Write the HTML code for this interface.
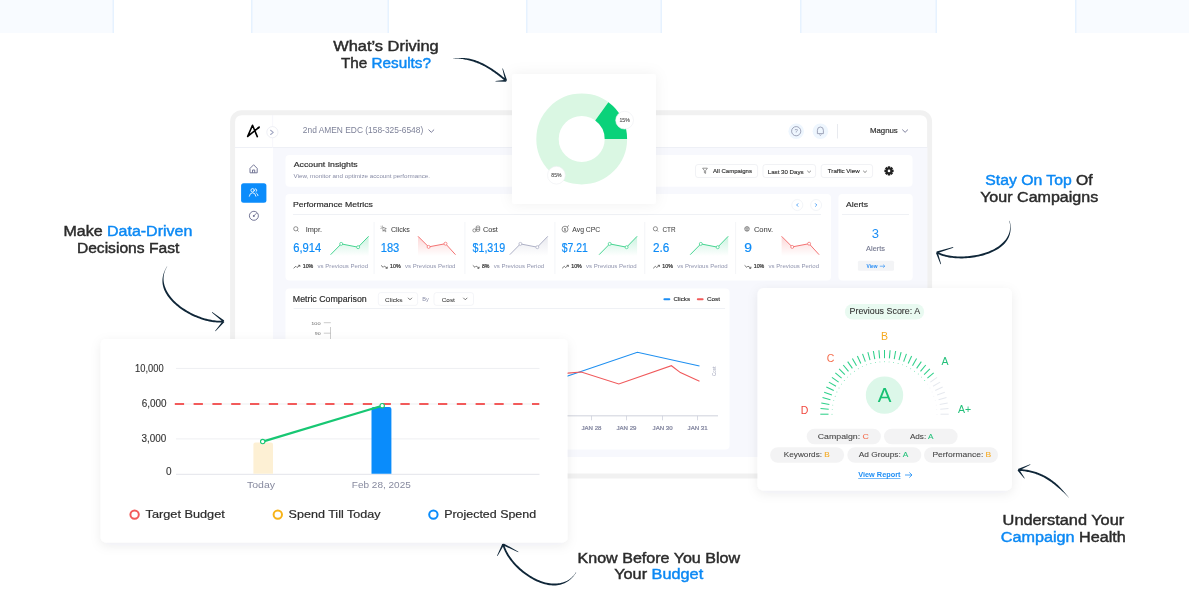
<!DOCTYPE html>
<html><head><meta charset="utf-8"><title>Dashboard</title>
<style>
html,body{margin:0;padding:0;background:#fff;}
body{width:1189px;height:603px;overflow:hidden;}
svg{display:block;font-family:"Liberation Sans",Arial,sans-serif;}
</style></head><body>
<svg width="1189" height="603" viewBox="0 0 1189 603">
<defs>
<filter id="shCard" x="-20%" y="-20%" width="140%" height="140%"><feDropShadow dx="0" dy="3" stdDeviation="5.5" flood-color="#1b2440" flood-opacity="0.075"/></filter>
<filter id="shSoft" x="-20%" y="-20%" width="140%" height="140%"><feDropShadow dx="0" dy="0" stdDeviation="7" flood-color="#1b2440" flood-opacity="0.06"/></filter>
</defs>
<rect width="1189" height="603" fill="#fff"/>
<g id="band">
<rect x="-24" y="0" width="138" height="33" fill="#f8fbff"/>
<rect x="-24" y="0" width="1.5" height="33" fill="#e6f2ff"/>
<rect x="112.5" y="0" width="1.5" height="33" fill="#e6f2ff"/>
<rect x="251" y="0" width="138" height="33" fill="#f8fbff"/>
<rect x="251" y="0" width="1.5" height="33" fill="#e6f2ff"/>
<rect x="387.5" y="0" width="1.5" height="33" fill="#e6f2ff"/>
<rect x="526" y="0" width="136" height="33" fill="#f8fbff"/>
<rect x="526" y="0" width="1.5" height="33" fill="#e6f2ff"/>
<rect x="660.5" y="0" width="1.5" height="33" fill="#e6f2ff"/>
<rect x="800" y="0" width="137" height="33" fill="#f8fbff"/>
<rect x="800" y="0" width="1.5" height="33" fill="#e6f2ff"/>
<rect x="935.5" y="0" width="1.5" height="33" fill="#e6f2ff"/>
<rect x="1075" y="0" width="138" height="33" fill="#f8fbff"/>
<rect x="1075" y="0" width="1.5" height="33" fill="#e6f2ff"/>
<rect x="1211.5" y="0" width="1.5" height="33" fill="#e6f2ff"/>
</g>
<g id="laptop">
<rect x="232.6" y="112.7" width="697" height="363.4" rx="9" fill="#fff" stroke="#f1f1f1" stroke-width="5"/>
<rect x="273" y="148" width="654.3" height="309" fill="#f7f8fd"/>
<rect x="235" y="147" width="692.3" height="1" fill="#eef0f6"/>
<rect x="272.3" y="115" width="0.8" height="33" fill="#f5f6fb"/>
<path d="M247.7 136.4 L252.5 125.3 L257.3 136.6 M247.7 136.4 L259 127.3" fill="none" stroke="#000" stroke-width="1.6" stroke-linecap="round" stroke-linejoin="round"/>
<path d="M257.2 127.2 L259.8 126.3 L258.9 129" fill="#000"/>
<circle cx="272.4" cy="132.2" r="5.6" fill="#fff" stroke="#e6e8f0" stroke-width="0.7"/>
<path d="M270.6 130.3 L273.3 132.4 L270.6 134.5" fill="none" stroke="#a3a8c3" stroke-width="1.1" stroke-linecap="round" stroke-linejoin="round"/>
<text x="302.8" y="133.4" font-size="9" fill="#7e8299" textLength="120.4" lengthAdjust="spacingAndGlyphs">2nd AMEN EDC (158-325-6548)</text>
<path d="M428.5 129.6 L431.3 132.3 L434.1 129.6" fill="none" stroke="#6e7191" stroke-width="0.9"/>
<circle cx="796.2" cy="131.2" r="7.8" fill="#eef6fe"/>
<circle cx="796.2" cy="131.2" r="4.6" fill="none" stroke="#8c90a8" stroke-width="0.8"/>
<text x="796.2" y="133.4" font-size="6" fill="#8c90a8" text-anchor="middle">?</text>
<circle cx="820.4" cy="131.2" r="7.8" fill="#eef6fe"/>
<path d="M817.4 133.6 L817.4 130.3 Q817.4 127 820.4 127 Q823.4 127 823.4 130.3 L823.4 133.6 Z M819.4 134.6 Q820.4 136 821.4 134.6" fill="none" stroke="#8c90a8" stroke-width="0.8" stroke-linejoin="round"/>
<rect x="837.2" y="124" width="0.8" height="14.5" fill="#e3e5ec"/>
<text x="869.9" y="133.3" font-size="8" fill="#333" textLength="27.9" lengthAdjust="spacingAndGlyphs" stroke="#333" stroke-width="0.2">Magnus</text>
<path d="M902.3 129.6 L905.1 132.3 L907.9 129.6" fill="none" stroke="#6e7191" stroke-width="0.9"/>
<path d="M250 168.4 L253.6 164.8 L257.2 168.4 L257.2 172.8 L250 172.8 Z M252.5 172.8 L252.5 170 L254.7 170 L254.7 172.8" fill="none" stroke="#6e7191" stroke-width="0.95" stroke-linejoin="round"/>
<rect x="241.1" y="183.3" width="25.3" height="19.4" rx="2.5" fill="#0b8cfb"/>
<g fill="none" stroke="#fff" stroke-width="0.85" stroke-linecap="round"><circle cx="252.6" cy="190.3" r="1.7"/><path d="M249.3 196.2 Q249.8 192.8 252.6 192.8 Q255.4 192.8 255.9 196.2"/><path d="M255.3 188.8 A1.6 1.6 0 0 1 255.9 191.8 M256.6 193.2 Q257.8 193.8 258 195.6"/></g>
<circle cx="253.9" cy="215.8" r="4.5" fill="none" stroke="#6e7191" stroke-width="0.95"/>
<path d="M253.8 215.9 L256.6 213.1" stroke="#6e7191" stroke-width="0.85"/><circle cx="253.8" cy="215.9" r="1" fill="#6e7191"/>
</g>
<g id="cards">
<rect x="285.5" y="155" width="627" height="31.7" rx="4" fill="#fff"/>
<rect x="285.5" y="194" width="545.5" height="86.4" rx="4" fill="#fff"/>
<rect x="838.4" y="194" width="74.3" height="86.4" rx="4" fill="#fff"/>
<rect x="285.5" y="288.4" width="444" height="161.1" rx="4" fill="#fff"/>
<text x="293.8" y="167.2" font-size="8" fill="#2d2d2d" textLength="63.9" lengthAdjust="spacingAndGlyphs" stroke="#2d2d2d" stroke-width="0.18">Account Insights</text>
<text x="293.6" y="177.8" font-size="5.8" fill="#878ba5" textLength="136.4" lengthAdjust="spacingAndGlyphs">View, monitor and optimize account performance.</text>
<rect x="695.5" y="164.5" width="62.10000000000002" height="13" rx="2.5" fill="#fff" stroke="#e8e9ef" stroke-width="0.6"/>
<rect x="763" y="164.5" width="52.60000000000002" height="13" rx="2.5" fill="#fff" stroke="#e8e9ef" stroke-width="0.6"/>
<rect x="821.2" y="164.5" width="51.39999999999998" height="13" rx="2.5" fill="#fff" stroke="#e8e9ef" stroke-width="0.6"/>
<text x="713.1" y="173.3" font-size="5.6" fill="#333" textLength="38.9" lengthAdjust="spacingAndGlyphs" stroke="#333" stroke-width="0.15">All Campaigns</text>
<path d="M702.6 168.2 L707.4 168.2 L705.6 170.6 L705.6 173.4 L704.4 172.8 L704.4 170.6 Z" fill="none" stroke="#555" stroke-width="0.6"/>
<text x="767.8" y="173.6" font-size="5.6" fill="#333" textLength="35.8" lengthAdjust="spacingAndGlyphs" stroke="#333" stroke-width="0.15">Last 30 Days</text>
<path d="M807.3 170.8 L809.1 172.5 L810.9 170.8" fill="none" stroke="#555" stroke-width="0.7"/>
<text x="827.8" y="173.3" font-size="5.6" fill="#333" textLength="31.8" lengthAdjust="spacingAndGlyphs" stroke="#333" stroke-width="0.15">Traffic View</text>
<path d="M863.2 170.8 L865 172.5 L866.8 170.8" fill="none" stroke="#555" stroke-width="0.7"/>
<rect x="887.8" y="166.3" width="2.4" height="2.4" transform="rotate(0 889 170.9)" fill="#222"/><rect x="887.8" y="166.3" width="2.4" height="2.4" transform="rotate(45 889 170.9)" fill="#222"/><rect x="887.8" y="166.3" width="2.4" height="2.4" transform="rotate(90 889 170.9)" fill="#222"/><rect x="887.8" y="166.3" width="2.4" height="2.4" transform="rotate(135 889 170.9)" fill="#222"/><rect x="887.8" y="166.3" width="2.4" height="2.4" transform="rotate(180 889 170.9)" fill="#222"/><rect x="887.8" y="166.3" width="2.4" height="2.4" transform="rotate(225 889 170.9)" fill="#222"/><rect x="887.8" y="166.3" width="2.4" height="2.4" transform="rotate(270 889 170.9)" fill="#222"/><rect x="887.8" y="166.3" width="2.4" height="2.4" transform="rotate(315 889 170.9)" fill="#222"/>
<circle cx="889" cy="170.9" r="3.4" fill="#222"/><circle cx="889" cy="170.9" r="1.3" fill="#fff"/>
<text x="292.9" y="207.3" font-size="8" fill="#2d2d2d" textLength="80" lengthAdjust="spacingAndGlyphs" stroke="#2d2d2d" stroke-width="0.18">Performance Metrics</text>
<rect x="293" y="214" width="528" height="0.8" fill="#eceef3"/>
<circle cx="797.3" cy="205" r="5.5" fill="#fff" stroke="#eef0f5" stroke-width="0.7"/>
<circle cx="816.1" cy="205" r="5.5" fill="#fff" stroke="#eef0f5" stroke-width="0.7"/>
<path d="M798.2 203.4 L796.6 205 L798.2 206.6" fill="none" stroke="#2a8ef5" stroke-width="0.8"/>
<path d="M815.2 203.4 L816.8 205 L815.2 206.6" fill="none" stroke="#2a8ef5" stroke-width="0.8"/>
<circle cx="295.8" cy="228.8" r="2.1" fill="none" stroke="#4a4a4a" stroke-width="0.6"/><path d="M297.3 230.3 L298.6 231.6" stroke="#4a4a4a" stroke-width="0.6"/>
<text x="305.7" y="231.5" font-size="6.4" fill="#444" textLength="16.3" lengthAdjust="spacingAndGlyphs" stroke="#444" stroke-width="0.05">Impr.</text>
<text x="293.3" y="251.5" font-size="13" fill="#0e8cf7" textLength="28" lengthAdjust="spacingAndGlyphs" stroke="#0e8cf7" stroke-width="0.2">6,914</text>
<defs><linearGradient id="sg0" x1="0" y1="0" x2="0" y2="1"><stop offset="0" stop-color="#45d491" stop-opacity="0.28"/><stop offset="1" stop-color="#45d491" stop-opacity="0"/></linearGradient></defs>
<polygon points="330.6,254.7 341.2,243.9 358.1,247.2 368.6,236.3 368.6,256 330.6,256" fill="url(#sg0)"/>
<polyline points="330.6,254.7 341.2,243.9 358.1,247.2 368.6,236.3" fill="none" stroke="#45d491" stroke-width="1"/>
<circle cx="341.2" cy="243.9" r="1.5" fill="#fff" stroke="#45d491" stroke-width="0.8"/>
<circle cx="358.1" cy="247.2" r="1.5" fill="#fff" stroke="#45d491" stroke-width="0.8"/>
<path d="M293.6 268.3 L295.8 266.3 L297.0 267.5 L299.8 265.4 M298.20000000000005 265.3 L299.90000000000003 265.3 L299.90000000000003 266.9" fill="none" stroke="#333" stroke-width="0.65"/>
<text x="302.7" y="268" font-size="5.6" fill="#333" textLength="10.6" lengthAdjust="spacingAndGlyphs" stroke="#333" stroke-width="0.22">10%</text>
<text x="317.6" y="268" font-size="5.5" fill="#9094ae" textLength="50.5" lengthAdjust="spacingAndGlyphs">vs Previous Period</text>
<path d="M382.7 227.2 L386.3 228.6 L384.7 229.4 L386.09999999999997 231.2 L385.3 231.8 L384.0 230 L383.09999999999997 231.3 Z M380.7 226.4 L381.7 227.2 M382.3 225.6 L382.5 226.6 M380.5 228.4 L381.59999999999997 228.4" fill="none" stroke="#4a4a4a" stroke-width="0.55" stroke-linejoin="round"/>
<text x="391.0" y="231.5" font-size="6.4" fill="#444" textLength="18.9" lengthAdjust="spacingAndGlyphs" stroke="#444" stroke-width="0.05">Clicks</text>
<text x="380.7" y="251.5" font-size="13" fill="#0e8cf7" textLength="18.6" lengthAdjust="spacingAndGlyphs" stroke="#0e8cf7" stroke-width="0.2">183</text>
<defs><linearGradient id="sg1" x1="0" y1="0" x2="0" y2="1"><stop offset="0" stop-color="#f47272" stop-opacity="0.28"/><stop offset="1" stop-color="#f47272" stop-opacity="0"/></linearGradient></defs>
<polygon points="418.0,236.3 428.6,246.9 445.5,243.7 455.5,254.7 455.5,256 418.0,256" fill="url(#sg1)"/>
<polyline points="418.0,236.3 428.6,246.9 445.5,243.7 455.5,254.7" fill="none" stroke="#f47272" stroke-width="1"/>
<circle cx="428.6" cy="246.9" r="1.5" fill="#fff" stroke="#f47272" stroke-width="0.8"/>
<circle cx="445.5" cy="243.7" r="1.5" fill="#fff" stroke="#f47272" stroke-width="0.8"/>
<path d="M381.0 265.4 L383.2 267.3 L384.4 266.1 L387.2 268.2 M385.6 268.3 L387.3 268.3 L387.3 266.7" fill="none" stroke="#333" stroke-width="0.65"/>
<text x="390.09999999999997" y="268" font-size="5.6" fill="#333" textLength="10.6" lengthAdjust="spacingAndGlyphs" stroke="#333" stroke-width="0.22">10%</text>
<text x="405.0" y="268" font-size="5.5" fill="#9094ae" textLength="50.5" lengthAdjust="spacingAndGlyphs">vs Previous Period</text>
<g fill="none" stroke="#4a4a4a" stroke-width="0.55"><circle cx="474.4" cy="230.4" r="1.6"/><rect x="476.1" y="226" width="3.6" height="5.4" rx="1.2"/><path d="M476.1 227.8 L479.7 227.8 M476.1 229.6 L479.7 229.6"/></g>
<text x="482.9" y="231.5" font-size="6.4" fill="#444" textLength="15.0" lengthAdjust="spacingAndGlyphs" stroke="#444" stroke-width="0.05">Cost</text>
<text x="472.5" y="251.5" font-size="13" fill="#0e8cf7" textLength="32.7" lengthAdjust="spacingAndGlyphs" stroke="#0e8cf7" stroke-width="0.2">$1,319</text>
<defs><linearGradient id="sg2" x1="0" y1="0" x2="0" y2="1"><stop offset="0" stop-color="#aeb1c6" stop-opacity="0.28"/><stop offset="1" stop-color="#aeb1c6" stop-opacity="0"/></linearGradient></defs>
<polygon points="509.8,254.7 520.4,243.9 537.3,247.2 547.8,236.3 547.8,256 509.8,256" fill="url(#sg2)"/>
<polyline points="509.8,254.7 520.4,243.9 537.3,247.2 547.8,236.3" fill="none" stroke="#aeb1c6" stroke-width="1"/>
<circle cx="520.4" cy="243.9" r="1.5" fill="#fff" stroke="#aeb1c6" stroke-width="0.8"/>
<circle cx="537.3" cy="247.2" r="1.5" fill="#fff" stroke="#aeb1c6" stroke-width="0.8"/>
<path d="M472.8 265.4 L475.0 267.3 L476.2 266.1 L479.0 268.2 M477.40000000000003 268.3 L479.1 268.3 L479.1 266.7" fill="none" stroke="#333" stroke-width="0.65"/>
<text x="481.9" y="268" font-size="5.6" fill="#333" textLength="7.5" lengthAdjust="spacingAndGlyphs" stroke="#333" stroke-width="0.22">8%</text>
<text x="493.7" y="268" font-size="5.5" fill="#9094ae" textLength="50.5" lengthAdjust="spacingAndGlyphs">vs Previous Period</text>
<circle cx="565.0" cy="229.2" r="3" fill="none" stroke="#4a4a4a" stroke-width="0.6"/><text x="565.0" y="230.9" font-size="4.4" fill="#4a4a4a" text-anchor="middle">$</text><path d="M567.1999999999999 226.9 L569.0 225.4" stroke="#4a4a4a" stroke-width="0.6"/>
<text x="572.3" y="231.5" font-size="6.4" fill="#444" textLength="28.0" lengthAdjust="spacingAndGlyphs" stroke="#444" stroke-width="0.05">Avg CPC</text>
<text x="561.8" y="251.5" font-size="13" fill="#0e8cf7" textLength="26.0" lengthAdjust="spacingAndGlyphs" stroke="#0e8cf7" stroke-width="0.2">$7.21</text>
<defs><linearGradient id="sg3" x1="0" y1="0" x2="0" y2="1"><stop offset="0" stop-color="#45d491" stop-opacity="0.28"/><stop offset="1" stop-color="#45d491" stop-opacity="0"/></linearGradient></defs>
<polygon points="599.1,254.7 609.7,243.9 626.6,247.2 637.1,236.3 637.1,256 599.1,256" fill="url(#sg3)"/>
<polyline points="599.1,254.7 609.7,243.9 626.6,247.2 637.1,236.3" fill="none" stroke="#45d491" stroke-width="1"/>
<circle cx="609.7" cy="243.9" r="1.5" fill="#fff" stroke="#45d491" stroke-width="0.8"/>
<circle cx="626.6" cy="247.2" r="1.5" fill="#fff" stroke="#45d491" stroke-width="0.8"/>
<path d="M562.0999999999999 268.3 L564.3 266.3 L565.4999999999999 267.5 L568.3 265.4 M566.6999999999999 265.3 L568.3999999999999 265.3 L568.3999999999999 266.9" fill="none" stroke="#333" stroke-width="0.65"/>
<text x="571.1999999999999" y="268" font-size="5.6" fill="#333" textLength="10.6" lengthAdjust="spacingAndGlyphs" stroke="#333" stroke-width="0.22">10%</text>
<text x="586.0999999999999" y="268" font-size="5.5" fill="#9094ae" textLength="50.5" lengthAdjust="spacingAndGlyphs">vs Previous Period</text>
<circle cx="655.4" cy="228.8" r="2.1" fill="none" stroke="#4a4a4a" stroke-width="0.6"/><path d="M656.9 230.3 L658.1999999999999 231.6" stroke="#4a4a4a" stroke-width="0.6"/>
<text x="662.5" y="231.5" font-size="6.4" fill="#444" textLength="13.1" lengthAdjust="spacingAndGlyphs" stroke="#444" stroke-width="0.05">CTR</text>
<text x="652.9" y="251.5" font-size="13" fill="#0e8cf7" textLength="16.3" lengthAdjust="spacingAndGlyphs" stroke="#0e8cf7" stroke-width="0.2">2.6</text>
<defs><linearGradient id="sg4" x1="0" y1="0" x2="0" y2="1"><stop offset="0" stop-color="#45d491" stop-opacity="0.28"/><stop offset="1" stop-color="#45d491" stop-opacity="0"/></linearGradient></defs>
<polygon points="690.2,254.7 700.8,243.9 717.7,247.2 728.2,236.3 728.2,256 690.2,256" fill="url(#sg4)"/>
<polyline points="690.2,254.7 700.8,243.9 717.7,247.2 728.2,236.3" fill="none" stroke="#45d491" stroke-width="1"/>
<circle cx="700.8" cy="243.9" r="1.5" fill="#fff" stroke="#45d491" stroke-width="0.8"/>
<circle cx="717.7" cy="247.2" r="1.5" fill="#fff" stroke="#45d491" stroke-width="0.8"/>
<path d="M653.1999999999999 268.3 L655.4 266.3 L656.5999999999999 267.5 L659.4 265.4 M657.8 265.3 L659.4999999999999 265.3 L659.4999999999999 266.9" fill="none" stroke="#333" stroke-width="0.65"/>
<text x="662.3" y="268" font-size="5.6" fill="#333" textLength="10.6" lengthAdjust="spacingAndGlyphs" stroke="#333" stroke-width="0.22">10%</text>
<text x="677.1999999999999" y="268" font-size="5.5" fill="#9094ae" textLength="50.5" lengthAdjust="spacingAndGlyphs">vs Previous Period</text>
<circle cx="747.0" cy="228.9" r="2.3" fill="none" stroke="#4a4a4a" stroke-width="0.6"/><path d="M744.9 228.2 L749.0999999999999 228.2 M745.3 230 L748.6999999999999 230 M747.0 226.6 L747.0 231.2" stroke="#4a4a4a" stroke-width="0.45"/>
<text x="753.9" y="231.5" font-size="6.4" fill="#444" textLength="19.2" lengthAdjust="spacingAndGlyphs" stroke="#444" stroke-width="0.05">Conv.</text>
<text x="744.3" y="251.5" font-size="13" fill="#0e8cf7" textLength="7.7" lengthAdjust="spacingAndGlyphs" stroke="#0e8cf7" stroke-width="0.2">9</text>
<defs><linearGradient id="sg5" x1="0" y1="0" x2="0" y2="1"><stop offset="0" stop-color="#f47272" stop-opacity="0.28"/><stop offset="1" stop-color="#f47272" stop-opacity="0"/></linearGradient></defs>
<polygon points="781.6,236.3 792.2,246.9 809.1,243.7 819.1,254.7 819.1,256 781.6,256" fill="url(#sg5)"/>
<polyline points="781.6,236.3 792.2,246.9 809.1,243.7 819.1,254.7" fill="none" stroke="#f47272" stroke-width="1"/>
<circle cx="792.2" cy="246.9" r="1.5" fill="#fff" stroke="#f47272" stroke-width="0.8"/>
<circle cx="809.1" cy="243.7" r="1.5" fill="#fff" stroke="#f47272" stroke-width="0.8"/>
<path d="M744.5999999999999 265.4 L746.8 267.3 L747.9999999999999 266.1 L750.8 268.2 M749.1999999999999 268.3 L750.8999999999999 268.3 L750.8999999999999 266.7" fill="none" stroke="#333" stroke-width="0.65"/>
<text x="753.6999999999999" y="268" font-size="5.6" fill="#333" textLength="10.6" lengthAdjust="spacingAndGlyphs" stroke="#333" stroke-width="0.22">10%</text>
<text x="768.5999999999999" y="268" font-size="5.5" fill="#9094ae" textLength="50.5" lengthAdjust="spacingAndGlyphs">vs Previous Period</text>
<rect x="373.7" y="222" width="0.7" height="52" fill="#eef0f4"/>
<rect x="464.6" y="222" width="0.7" height="52" fill="#eef0f4"/>
<rect x="554.6" y="222" width="0.7" height="52" fill="#eef0f4"/>
<rect x="644.5" y="222" width="0.7" height="52" fill="#eef0f4"/>
<rect x="735.4" y="222" width="0.7" height="52" fill="#eef0f4"/>
<text x="846.1" y="207.3" font-size="8" fill="#2d2d2d" textLength="21.9" lengthAdjust="spacingAndGlyphs" stroke="#2d2d2d" stroke-width="0.18">Alerts</text>
<rect x="842" y="214" width="67" height="0.8" fill="#eceef3"/>
<text x="875.3" y="238" font-size="13" fill="#1c8ef5" text-anchor="middle">3</text>
<text x="875.5" y="250.6" font-size="6.4" fill="#74788f" text-anchor="middle" textLength="18.8" lengthAdjust="spacingAndGlyphs" stroke="#74788f" stroke-width="0.1">Alerts</text>
<rect x="857.9" y="260.8" width="36.1" height="9.9" rx="1.5" fill="#f3f4f6"/>
<text x="866.6" y="268" font-size="5.2" fill="#2a8ef5" font-weight="bold" textLength="11" lengthAdjust="spacingAndGlyphs">View</text>
<path d="M879.8 266.2 L884.8 266.2 M883.2 264.7 L884.8 266.2 L883.2 267.7" fill="none" stroke="#2a8ef5" stroke-width="0.65"/>
<text x="292.8" y="301.9" font-size="8.3" fill="#2d2d2d" textLength="73.9" lengthAdjust="spacingAndGlyphs" stroke="#2d2d2d" stroke-width="0.18">Metric Comparison</text>
<rect x="378.3" y="292.6" width="39.30000000000001" height="12.8" rx="2.5" fill="#fff" stroke="#eceef3" stroke-width="0.6"/>
<rect x="434" y="292.6" width="39.5" height="12.8" rx="2.5" fill="#fff" stroke="#eceef3" stroke-width="0.6"/>
<text x="385.1" y="301.6" font-size="6.1" fill="#444" stroke="#444" stroke-width="0.08" textLength="17.3" lengthAdjust="spacingAndGlyphs">Clicks</text>
<text x="441.8" y="301.6" font-size="6.1" fill="#444" stroke="#444" stroke-width="0.08" textLength="13" lengthAdjust="spacingAndGlyphs">Cost</text>
<path d="M408 297.8 L410 299.8 L412 297.8 M463.3 297.8 L465.3 299.8 L467.3 297.8" fill="none" stroke="#555" stroke-width="0.8"/>
<text x="422.2" y="301.3" font-size="5.6" fill="#8a8ea8">By</text>
<rect x="293.6" y="308" width="431.5" height="0.8" fill="#eceef3"/>
<rect x="663.4" y="298.2" width="6.9" height="2" rx="1" fill="#1c8ef5"/>
<text x="673.5" y="301.4" font-size="5.6" fill="#333" textLength="16.5" lengthAdjust="spacingAndGlyphs" stroke="#333" stroke-width="0.15">Clicks</text>
<rect x="696.8" y="298.2" width="6.8" height="2" rx="1" fill="#f25a5a"/>
<text x="707" y="301.4" font-size="5.6" fill="#333" textLength="13" lengthAdjust="spacingAndGlyphs" stroke="#333" stroke-width="0.15">Cost</text>
<text x="320.6" y="324.5" font-size="4.3" fill="#666" text-anchor="end" textLength="9.4" lengthAdjust="spacingAndGlyphs">100</text>
<text x="320.6" y="335.1" font-size="4.3" fill="#666" text-anchor="end" textLength="5.8" lengthAdjust="spacingAndGlyphs">90</text>
<path d="M323.8 322.7 L330.8 322.7 M323.8 333.2 L330.5 333.2 M330.5 327 L330.5 340" stroke="#999" stroke-width="0.5" fill="none"/>
<polyline points="560,378.7 567.7,376.1 637.4,352.3 699.5,366" fill="none" stroke="#1e8ff0" stroke-width="1.1"/>
<polyline points="560,373.5 567.7,373.1 581.3,372 618.8,384 671.4,365.7 680.4,372.6 699.5,381.3" fill="none" stroke="#f0595b" stroke-width="1.1"/>
<text x="0" y="0" font-size="4.6" fill="#9a9eb5" transform="translate(716.3 376) rotate(-90)">Cost</text>
<rect x="560" y="415.4" width="158" height="0.9" fill="#c9ccd8"/>
<rect x="591.15" y="415.8" width="0.7" height="4.5" fill="#c9ccd8"/>
<text x="591.5" y="429.7" font-size="4.5" fill="#80849e" text-anchor="middle" textLength="20" lengthAdjust="spacingAndGlyphs" stroke="#80849e" stroke-width="0.18">JAN 28</text>
<rect x="626.15" y="415.8" width="0.7" height="4.5" fill="#c9ccd8"/>
<text x="626.5" y="429.7" font-size="4.5" fill="#80849e" text-anchor="middle" textLength="20" lengthAdjust="spacingAndGlyphs" stroke="#80849e" stroke-width="0.18">JAN 29</text>
<rect x="662.25" y="415.8" width="0.7" height="4.5" fill="#c9ccd8"/>
<text x="662.6" y="429.7" font-size="4.5" fill="#80849e" text-anchor="middle" textLength="20" lengthAdjust="spacingAndGlyphs" stroke="#80849e" stroke-width="0.18">JAN 30</text>
<rect x="697.25" y="415.8" width="0.7" height="4.5" fill="#c9ccd8"/>
<text x="697.6" y="429.7" font-size="4.5" fill="#80849e" text-anchor="middle" textLength="20" lengthAdjust="spacingAndGlyphs" stroke="#80849e" stroke-width="0.18">JAN 31</text>
</g>
<g id="donut">
<rect x="512" y="74" width="144" height="130" rx="3" fill="#fff" filter="url(#shSoft)"/>
<circle cx="581.7" cy="139" r="34.2" fill="none" stroke="#daf7e3" stroke-width="22.4"/>
<path d="M627.10 139.00 A45.4 45.4 0 0 0 608.39 102.27 L595.22 120.39 A23 23 0 0 1 604.70 139.00 Z" fill="#0ad27a"/>
<circle cx="624.6" cy="120.2" r="8.9" fill="#fff" stroke="#eceef1" stroke-width="0.6"/>
<text x="624.6" y="122.2" font-size="5.6" fill="#444" text-anchor="middle" textLength="10.2" lengthAdjust="spacingAndGlyphs" stroke="#444" stroke-width="0.08">15%</text>
<circle cx="556.4" cy="175.2" r="8.9" fill="#fff" stroke="#eceef1" stroke-width="0.6"/>
<text x="556.4" y="177.2" font-size="5.6" fill="#444" text-anchor="middle" textLength="10.2" lengthAdjust="spacingAndGlyphs" stroke="#444" stroke-width="0.08">85%</text>
</g>
<g id="spend">
<rect x="100.8" y="339" width="466.7" height="203.5" rx="5" fill="#fff" filter="url(#shCard)"/>
<rect x="176" y="367.9" width="363.5" height="1" fill="#eeeff2"/>
<rect x="176" y="438.4" width="363.5" height="1" fill="#eeeff2"/>
<rect x="176" y="473.8" width="363.5" height="1" fill="#e3e4ea"/>
<rect x="176" y="403.5" width="363.5" height="1" fill="#eeeff2"/>
<line x1="174.8" y1="404" x2="539.3" y2="404" stroke="#f25a5a" stroke-width="2.2" stroke-dasharray="9.3 9.5"/>
<text x="163.6" y="371.8" font-size="10" fill="#333" text-anchor="end" textLength="28.5" lengthAdjust="spacingAndGlyphs" stroke="#333" stroke-width="0.12">10,000</text>
<text x="166.6" y="406.9" font-size="10" fill="#333" text-anchor="end" textLength="24.8" lengthAdjust="spacingAndGlyphs" stroke="#333" stroke-width="0.12">6,000</text>
<text x="166.3" y="442.4" font-size="10" fill="#333" text-anchor="end" textLength="24.8" lengthAdjust="spacingAndGlyphs" stroke="#333" stroke-width="0.12">3,000</text>
<text x="171.5" y="474.9" font-size="10" fill="#333" text-anchor="end" stroke="#333" stroke-width="0.12">0</text>
<path d="M253.4 473.8 L253.4 444.4 Q253.4 442.4 255.4 442.4 L271 442.4 Q273 442.4 273 444.4 L273 473.8 Z" fill="#fdf0d4"/>
<path d="M371.5 473.8 L371.5 409 Q371.5 406.9 373.6 406.9 L389.3 406.9 Q391.4 406.9 391.4 409 L391.4 473.8 Z" fill="#0a8cfb"/>
<line x1="262.7" y1="441.6" x2="382.2" y2="405.7" stroke="#17c773" stroke-width="2.2"/>
<circle cx="262.7" cy="441.6" r="2.2" fill="#fff" stroke="#17c773" stroke-width="1.1"/>
<circle cx="382.2" cy="405.7" r="2.2" fill="#fff" stroke="#17c773" stroke-width="1.1"/>
<text x="261" y="488.4" font-size="9.4" fill="#878a9f" text-anchor="middle" textLength="28" lengthAdjust="spacingAndGlyphs">Today</text>
<text x="381.3" y="488.2" font-size="9.4" fill="#878a9f" text-anchor="middle" textLength="59" lengthAdjust="spacingAndGlyphs">Feb 28, 2025</text>
<circle cx="134.6" cy="514.6" r="4.2" fill="none" stroke="#f25a5a" stroke-width="2"/>
<circle cx="277.8" cy="514.6" r="4.2" fill="none" stroke="#f7b318" stroke-width="2"/>
<circle cx="433.4" cy="514.6" r="4.2" fill="none" stroke="#0a8cfb" stroke-width="2"/>
<text x="145.6" y="518.4" font-size="11.5" fill="#2b2b2b" textLength="79.2" lengthAdjust="spacingAndGlyphs" stroke="#2b2b2b" stroke-width="0.2">Target Budget</text>
<text x="288.6" y="518.4" font-size="11.5" fill="#2b2b2b" textLength="91.9" lengthAdjust="spacingAndGlyphs" stroke="#2b2b2b" stroke-width="0.2">Spend Till Today</text>
<text x="444.2" y="518.4" font-size="11.5" fill="#2b2b2b" textLength="91.9" lengthAdjust="spacingAndGlyphs" stroke="#2b2b2b" stroke-width="0.2">Projected Spend</text>
</g>
<g id="health">
<rect x="757.5" y="288" width="254.5" height="202.5" rx="6" fill="#fff" filter="url(#shCard)"/>
<rect x="844.9" y="303.9" width="79.2" height="15.7" rx="7.85" fill="#e9faf1"/>
<text x="849.5" y="314.1" font-size="8.2" stroke-width="0.08" textLength="70.6" lengthAdjust="spacingAndGlyphs"><tspan fill="#333" stroke="#333">Previous Score: </tspan><tspan fill="#333" stroke="#333">A</tspan></text>
<line x1="828.50" y1="414.20" x2="820.30" y2="414.20" stroke="#2ed08a" stroke-width="1.05"/><circle cx="832.00" cy="414.20" r="0.45" fill="#2ed08a"/><line x1="828.71" y1="409.32" x2="820.54" y2="408.60" stroke="#2ed08a" stroke-width="1.05"/><circle cx="832.20" cy="409.62" r="0.45" fill="#2ed08a"/><line x1="829.35" y1="404.48" x2="821.28" y2="403.05" stroke="#2ed08a" stroke-width="1.05"/><circle cx="832.80" cy="405.08" r="0.45" fill="#2ed08a"/><line x1="830.41" y1="399.71" x2="822.49" y2="397.58" stroke="#2ed08a" stroke-width="1.05"/><circle cx="833.79" cy="400.61" r="0.45" fill="#2ed08a"/><line x1="831.88" y1="395.05" x2="824.17" y2="392.24" stroke="#2ed08a" stroke-width="1.05"/><circle cx="835.17" cy="396.24" r="0.45" fill="#2ed08a"/><line x1="833.75" y1="390.53" x2="826.32" y2="387.07" stroke="#2ed08a" stroke-width="1.05"/><circle cx="836.92" cy="392.01" r="0.45" fill="#2ed08a"/><line x1="836.00" y1="386.20" x2="828.90" y2="382.10" stroke="#2ed08a" stroke-width="1.05"/><circle cx="839.03" cy="387.95" r="0.45" fill="#2ed08a"/><line x1="838.63" y1="382.08" x2="831.91" y2="377.38" stroke="#2ed08a" stroke-width="1.05"/><circle cx="841.49" cy="384.09" r="0.45" fill="#2ed08a"/><line x1="841.60" y1="378.20" x2="835.32" y2="372.93" stroke="#2ed08a" stroke-width="1.05"/><circle cx="844.28" cy="380.45" r="0.45" fill="#2ed08a"/><line x1="844.90" y1="374.60" x2="839.10" y2="368.80" stroke="#2ed08a" stroke-width="1.05"/><circle cx="847.38" cy="377.08" r="0.45" fill="#2ed08a"/><line x1="848.50" y1="371.30" x2="843.23" y2="365.02" stroke="#2ed08a" stroke-width="1.05"/><circle cx="850.75" cy="373.98" r="0.45" fill="#2ed08a"/><line x1="852.38" y1="368.33" x2="847.68" y2="361.61" stroke="#2ed08a" stroke-width="1.05"/><circle cx="854.39" cy="371.19" r="0.45" fill="#2ed08a"/><line x1="856.50" y1="365.70" x2="852.40" y2="358.60" stroke="#2ed08a" stroke-width="1.05"/><circle cx="858.25" cy="368.73" r="0.45" fill="#2ed08a"/><line x1="860.83" y1="363.45" x2="857.37" y2="356.02" stroke="#2ed08a" stroke-width="1.05"/><circle cx="862.31" cy="366.62" r="0.45" fill="#2ed08a"/><line x1="865.35" y1="361.58" x2="862.54" y2="353.87" stroke="#2ed08a" stroke-width="1.05"/><circle cx="866.54" cy="364.87" r="0.45" fill="#2ed08a"/><line x1="870.01" y1="360.11" x2="867.88" y2="352.19" stroke="#2ed08a" stroke-width="1.05"/><circle cx="870.91" cy="363.49" r="0.45" fill="#2ed08a"/><line x1="874.78" y1="359.05" x2="873.35" y2="350.98" stroke="#2ed08a" stroke-width="1.05"/><circle cx="875.38" cy="362.50" r="0.45" fill="#2ed08a"/><line x1="879.62" y1="358.41" x2="878.90" y2="350.24" stroke="#2ed08a" stroke-width="1.05"/><circle cx="879.92" cy="361.90" r="0.45" fill="#2ed08a"/><line x1="884.50" y1="358.20" x2="884.50" y2="350.00" stroke="#2ed08a" stroke-width="1.05"/><circle cx="884.50" cy="361.70" r="0.45" fill="#2ed08a"/><line x1="889.38" y1="358.41" x2="890.10" y2="350.24" stroke="#2ed08a" stroke-width="1.05"/><circle cx="889.08" cy="361.90" r="0.45" fill="#2ed08a"/><line x1="894.22" y1="359.05" x2="895.65" y2="350.98" stroke="#2ed08a" stroke-width="1.05"/><circle cx="893.62" cy="362.50" r="0.45" fill="#2ed08a"/><line x1="898.99" y1="360.11" x2="901.12" y2="352.19" stroke="#2ed08a" stroke-width="1.05"/><circle cx="898.09" cy="363.49" r="0.45" fill="#2ed08a"/><line x1="903.65" y1="361.58" x2="906.46" y2="353.87" stroke="#2ed08a" stroke-width="1.05"/><circle cx="902.46" cy="364.87" r="0.45" fill="#2ed08a"/><line x1="908.17" y1="363.45" x2="911.63" y2="356.02" stroke="#2ed08a" stroke-width="1.05"/><circle cx="906.69" cy="366.62" r="0.45" fill="#2ed08a"/><line x1="912.50" y1="365.70" x2="916.60" y2="358.60" stroke="#2ed08a" stroke-width="1.05"/><circle cx="910.75" cy="368.73" r="0.45" fill="#2ed08a"/><line x1="916.62" y1="368.33" x2="921.32" y2="361.61" stroke="#2ed08a" stroke-width="1.05"/><circle cx="914.61" cy="371.19" r="0.45" fill="#2ed08a"/><line x1="920.50" y1="371.30" x2="925.77" y2="365.02" stroke="#2ed08a" stroke-width="1.05"/><circle cx="918.25" cy="373.98" r="0.45" fill="#2ed08a"/><line x1="924.10" y1="374.60" x2="929.90" y2="368.80" stroke="#2ed08a" stroke-width="1.05"/><circle cx="921.62" cy="377.08" r="0.45" fill="#2ed08a"/><line x1="927.40" y1="378.20" x2="933.68" y2="372.93" stroke="#2ed08a" stroke-width="1.05"/><circle cx="924.72" cy="380.45" r="0.45" fill="#2ed08a"/><line x1="930.37" y1="382.08" x2="937.09" y2="377.38" stroke="#e6e9ef" stroke-width="1.05"/><circle cx="927.51" cy="384.09" r="0.45" fill="#e6e9ef"/><line x1="933.00" y1="386.20" x2="940.10" y2="382.10" stroke="#e6e9ef" stroke-width="1.05"/><circle cx="929.97" cy="387.95" r="0.45" fill="#e6e9ef"/><line x1="935.25" y1="390.53" x2="942.68" y2="387.07" stroke="#e6e9ef" stroke-width="1.05"/><circle cx="932.08" cy="392.01" r="0.45" fill="#e6e9ef"/><line x1="937.12" y1="395.05" x2="944.83" y2="392.24" stroke="#e6e9ef" stroke-width="1.05"/><circle cx="933.83" cy="396.24" r="0.45" fill="#e6e9ef"/><line x1="938.59" y1="399.71" x2="946.51" y2="397.58" stroke="#e6e9ef" stroke-width="1.05"/><circle cx="935.21" cy="400.61" r="0.45" fill="#e6e9ef"/><line x1="939.65" y1="404.48" x2="947.72" y2="403.05" stroke="#e6e9ef" stroke-width="1.05"/><circle cx="936.20" cy="405.08" r="0.45" fill="#e6e9ef"/><line x1="940.29" y1="409.32" x2="948.46" y2="408.60" stroke="#e6e9ef" stroke-width="1.05"/><circle cx="936.80" cy="409.62" r="0.45" fill="#e6e9ef"/><line x1="940.50" y1="414.20" x2="948.70" y2="414.20" stroke="#e6e9ef" stroke-width="1.05"/><circle cx="937.00" cy="414.20" r="0.45" fill="#e6e9ef"/>
<circle cx="884.5" cy="395.1" r="18.7" fill="#dcf7e9"/>
<text x="884.5" y="402.4" font-size="20.5" fill="#17c173" text-anchor="middle">A</text>
<text x="804.6" y="413.7" font-size="10.5" fill="#f0463c" text-anchor="middle">D</text>
<text x="830.5" y="362.1" font-size="10.5" fill="#f56e4e" text-anchor="middle">C</text>
<text x="884.6" y="339.7" font-size="10.5" fill="#f5a91f" text-anchor="middle">B</text>
<text x="945.1" y="364.8" font-size="10.5" fill="#23c07a" text-anchor="middle">A</text>
<text x="964.5" y="412.9" font-size="10.5" fill="#23c07a" text-anchor="middle">A+</text>
<rect x="806.7" y="428.8" width="74.2" height="15.5" rx="7.75" fill="#f3f3f4"/>
<text x="817.8" y="438.9" font-size="8.0" stroke-width="0.08" textLength="51.1" lengthAdjust="spacingAndGlyphs"><tspan fill="#444" stroke="#444">Campaign: </tspan><tspan fill="#f56e4e" stroke="#f56e4e">C</tspan></text>
<rect x="884.0" y="428.8" width="73.6" height="15.5" rx="7.75" fill="#f3f3f4"/>
<text x="909.9" y="438.9" font-size="8.0" stroke-width="0.08" textLength="23.6" lengthAdjust="spacingAndGlyphs"><tspan fill="#444" stroke="#444">Ads: </tspan><tspan fill="#23c07a" stroke="#23c07a">A</tspan></text>
<rect x="770.1" y="447.3" width="74.0" height="15.5" rx="7.75" fill="#f3f3f4"/>
<text x="783.8" y="457.4" font-size="8.0" stroke-width="0.08" textLength="46.0" lengthAdjust="spacingAndGlyphs"><tspan fill="#444" stroke="#444">Keywords: </tspan><tspan fill="#f5a91f" stroke="#f5a91f">B</tspan></text>
<rect x="847.3" y="447.3" width="74.0" height="15.5" rx="7.75" fill="#f3f3f4"/>
<text x="858.8" y="457.4" font-size="8.0" stroke-width="0.08" textLength="49.4" lengthAdjust="spacingAndGlyphs"><tspan fill="#444" stroke="#444">Ad Groups: </tspan><tspan fill="#23c07a" stroke="#23c07a">A</tspan></text>
<rect x="924.0" y="447.3" width="74.0" height="15.5" rx="7.75" fill="#f3f3f4"/>
<text x="932.4" y="457.4" font-size="8.0" stroke-width="0.08" textLength="58.9" lengthAdjust="spacingAndGlyphs"><tspan fill="#444" stroke="#444">Performance: </tspan><tspan fill="#f5a91f" stroke="#f5a91f">B</tspan></text>
<text x="858.2" y="477.2" font-size="7.2" fill="#1e8ef5" font-weight="bold" textLength="42.3" lengthAdjust="spacingAndGlyphs">View Report</text>
<rect x="858.2" y="478.4" width="42.3" height="0.6" fill="#1e8ef5"/>
<path d="M905 475 L912 475 M909.3 472.4 L912 475 L909.3 477.6" fill="none" stroke="#1e8ef5" stroke-width="0.8"/>
</g>
<g id="heads">
<text x="385.9" y="50.8" font-size="13.8" text-anchor="middle" textLength="105.5" lengthAdjust="spacingAndGlyphs" stroke-width="0.42"><tspan fill="#2b2b2b" stroke="#2b2b2b">What&#8217;s Driving</tspan></text>
<text x="386.0" y="67.6" font-size="13.8" text-anchor="middle" textLength="90.0" lengthAdjust="spacingAndGlyphs" stroke-width="0.42"><tspan fill="#2b2b2b" stroke="#2b2b2b">The </tspan><tspan fill="#0c89f4" stroke="#0c89f4">Results?</tspan></text>
<text x="127.9" y="235.9" font-size="13.8" text-anchor="middle" textLength="128.8" lengthAdjust="spacingAndGlyphs" stroke-width="0.42"><tspan fill="#2b2b2b" stroke="#2b2b2b">Make </tspan><tspan fill="#0c89f4" stroke="#0c89f4">Data-Driven</tspan></text>
<text x="128.1" y="252.8" font-size="13.8" text-anchor="middle" textLength="102.4" lengthAdjust="spacingAndGlyphs" stroke-width="0.42"><tspan fill="#2b2b2b" stroke="#2b2b2b">Decisions Fast</tspan></text>
<text x="1039.0" y="184.8" font-size="13.8" text-anchor="middle" textLength="107.4" lengthAdjust="spacingAndGlyphs" stroke-width="0.42"><tspan fill="#0c89f4" stroke="#0c89f4">Stay On Top</tspan><tspan fill="#2b2b2b" stroke="#2b2b2b"> Of</tspan></text>
<text x="1039.2" y="201.5" font-size="13.8" text-anchor="middle" textLength="118.1" lengthAdjust="spacingAndGlyphs" stroke-width="0.42"><tspan fill="#2b2b2b" stroke="#2b2b2b">Your Campaigns</tspan></text>
<text x="1063.4" y="525.0" font-size="13.8" text-anchor="middle" textLength="121.6" lengthAdjust="spacingAndGlyphs" stroke-width="0.42"><tspan fill="#2b2b2b" stroke="#2b2b2b">Understand Your</tspan></text>
<text x="1063.3" y="542.0" font-size="13.8" text-anchor="middle" textLength="125.1" lengthAdjust="spacingAndGlyphs" stroke-width="0.42"><tspan fill="#0c89f4" stroke="#0c89f4">Campaign</tspan><tspan fill="#2b2b2b" stroke="#2b2b2b"> Health</tspan></text>
<text x="658.8" y="562.8" font-size="13.8" text-anchor="middle" textLength="162.5" lengthAdjust="spacingAndGlyphs" stroke-width="0.42"><tspan fill="#2b2b2b" stroke="#2b2b2b">Know Before You Blow</tspan></text>
<text x="658.7" y="579.2" font-size="13.8" text-anchor="middle" textLength="89.0" lengthAdjust="spacingAndGlyphs" stroke-width="0.42"><tspan fill="#2b2b2b" stroke="#2b2b2b">Your </tspan><tspan fill="#0c89f4" stroke="#0c89f4">Budget</tspan></text>
</g>
<path d="M453.11 58.55 L454.21 58.49 L455.29 58.47 L456.37 58.47 L457.43 58.51 L458.48 58.58 L459.52 58.67 L460.55 58.78 L461.57 58.92 L462.57 59.08 L463.57 59.25 L464.55 59.44 L465.52 59.64 L466.48 59.86 L467.44 60.08 L468.39 60.31 L469.33 60.55 L470.26 60.79 L471.19 61.03 L472.12 61.29 L473.03 61.56 L473.94 61.85 L474.85 62.15 L475.75 62.47 L476.64 62.80 L477.53 63.14 L478.41 63.50 L479.29 63.87 L480.16 64.26 L481.02 64.65 L481.88 65.06 L482.74 65.49 L483.59 65.92 L484.44 66.37 L485.28 66.83 L486.12 67.30 L486.96 67.79 L487.79 68.28 L488.62 68.79 L489.45 69.30 L490.27 69.83 L491.09 70.36 L491.91 70.91 L492.73 71.46 L493.54 72.03 L494.35 72.60 L495.16 73.18 L495.97 73.77 L496.77 74.37 L497.58 74.98 L498.38 75.59 L499.19 76.21 L500.00 76.83 L500.81 77.46 L501.61 78.09 L502.42 78.73 L503.23 79.38 L504.04 80.03 L504.84 80.69 L505.65 81.35 L506.75 80.05 L505.95 79.37 L505.15 78.69 L504.35 78.01 L503.55 77.34 L502.75 76.68 L501.95 76.02 L501.15 75.37 L500.35 74.73 L499.54 74.09 L498.73 73.47 L497.91 72.85 L497.09 72.24 L496.28 71.65 L495.45 71.05 L494.63 70.47 L493.80 69.90 L492.97 69.33 L492.14 68.78 L491.30 68.23 L490.46 67.69 L489.62 67.17 L488.77 66.65 L487.92 66.15 L487.06 65.65 L486.20 65.17 L485.34 64.70 L484.47 64.24 L483.59 63.79 L482.71 63.36 L481.83 62.93 L480.94 62.52 L480.04 62.13 L479.14 61.74 L478.23 61.37 L477.31 61.02 L476.39 60.68 L475.46 60.35 L474.53 60.04 L473.59 59.74 L472.64 59.46 L471.68 59.20 L470.72 58.95 L469.74 58.74 L468.76 58.55 L467.76 58.39 L466.76 58.26 L465.75 58.15 L464.73 58.07 L463.71 58.00 L462.68 57.96 L461.64 57.94 L460.60 57.93 L459.55 57.94 L458.50 57.97 L457.43 58.00 L456.36 58.05 L455.28 58.11 L454.19 58.18 L453.09 58.25 Z M502.31 68.58 L505.29 80.97 L507.11 80.43 L502.89 68.42 Z M495.52 81.60 L506.25 81.65 L506.15 79.75 L495.48 81.00 Z" fill="#0f2638"/>
<path d="M166.97 266.42 L166.07 267.93 L165.26 269.44 L164.56 270.94 L163.96 272.44 L163.46 273.93 L163.06 275.43 L162.76 276.92 L162.55 278.42 L162.44 279.91 L162.43 281.41 L162.52 282.90 L162.70 284.38 L162.98 285.85 L163.35 287.32 L163.81 288.76 L164.37 290.19 L165.01 291.60 L165.74 292.98 L166.54 294.34 L167.41 295.67 L168.35 296.99 L169.34 298.28 L170.39 299.54 L171.50 300.79 L172.66 302.00 L173.88 303.19 L175.13 304.35 L176.44 305.49 L177.78 306.59 L179.16 307.67 L180.58 308.72 L182.03 309.73 L183.51 310.72 L185.02 311.67 L186.56 312.59 L188.11 313.47 L189.69 314.32 L191.28 315.13 L192.89 315.91 L194.51 316.64 L196.14 317.34 L197.77 318.00 L199.40 318.62 L201.04 319.20 L202.67 319.73 L204.30 320.22 L205.93 320.67 L207.54 321.07 L209.14 321.43 L210.72 321.74 L212.28 321.99 L213.83 322.19 L215.35 322.34 L216.84 322.44 L218.31 322.49 L219.74 322.49 L221.14 322.43 L222.50 322.31 L223.80 322.14 L223.60 320.46 L222.33 320.60 L221.04 320.68 L219.72 320.72 L218.35 320.70 L216.95 320.63 L215.52 320.52 L214.06 320.35 L212.57 320.13 L211.06 319.87 L209.52 319.57 L207.97 319.22 L206.41 318.83 L204.83 318.40 L203.24 317.92 L201.65 317.40 L200.06 316.83 L198.46 316.23 L196.87 315.59 L195.28 314.91 L193.70 314.19 L192.13 313.43 L190.57 312.64 L189.03 311.81 L187.51 310.95 L186.02 310.05 L184.55 309.12 L183.10 308.16 L181.69 307.18 L180.31 306.16 L178.97 305.11 L177.66 304.04 L176.40 302.94 L175.19 301.82 L174.02 300.67 L172.90 299.50 L171.83 298.30 L170.82 297.09 L169.87 295.86 L168.98 294.60 L168.16 293.34 L167.40 292.05 L166.70 290.75 L166.07 289.44 L165.50 288.12 L164.99 286.79 L164.55 285.45 L164.18 284.09 L163.89 282.71 L163.68 281.32 L163.56 279.91 L163.53 278.48 L163.60 277.03 L163.77 275.57 L164.05 274.09 L164.44 272.60 L164.95 271.10 L165.58 269.59 L166.34 268.09 L167.23 266.58 Z M211.82 312.44 L223.12 322.05 L224.28 320.55 L212.18 311.96 Z M215.53 331.30 L224.42 321.92 L222.98 320.68 L215.07 330.90 Z" fill="#0f2638"/>
<path d="M1009.35 220.93 L1009.73 222.64 L1009.99 224.30 L1010.11 225.91 L1010.12 227.48 L1010.02 229.00 L1009.80 230.47 L1009.49 231.89 L1009.08 233.26 L1008.58 234.58 L1007.99 235.85 L1007.33 237.08 L1006.59 238.26 L1005.78 239.40 L1004.90 240.50 L1003.96 241.56 L1002.96 242.60 L1001.90 243.60 L1000.78 244.57 L999.60 245.51 L998.37 246.41 L997.07 247.28 L995.73 248.10 L994.33 248.89 L992.89 249.64 L991.40 250.35 L989.87 251.02 L988.30 251.66 L986.69 252.25 L985.06 252.80 L983.40 253.32 L981.71 253.80 L980.00 254.24 L978.27 254.64 L976.52 255.00 L974.77 255.32 L973.00 255.60 L971.23 255.85 L969.45 256.05 L967.68 256.22 L965.91 256.34 L964.14 256.43 L962.39 256.48 L960.65 256.50 L958.93 256.47 L957.22 256.40 L955.54 256.30 L953.89 256.16 L952.26 255.98 L950.67 255.76 L949.11 255.51 L947.59 255.23 L946.12 254.91 L944.68 254.55 L943.30 254.16 L941.97 253.73 L940.69 253.27 L939.47 252.77 L938.31 252.23 L937.20 251.65 L936.40 253.15 L937.54 253.77 L938.76 254.36 L940.04 254.91 L941.37 255.42 L942.76 255.89 L944.20 256.33 L945.68 256.72 L947.21 257.07 L948.78 257.38 L950.39 257.64 L952.03 257.87 L953.70 258.05 L955.40 258.20 L957.13 258.30 L958.88 258.37 L960.64 258.40 L962.42 258.38 L964.22 258.33 L966.02 258.24 L967.84 258.11 L969.65 257.94 L971.47 257.73 L973.28 257.48 L975.09 257.19 L976.89 256.86 L978.67 256.49 L980.45 256.08 L982.20 255.63 L983.94 255.14 L985.65 254.61 L987.33 254.04 L988.98 253.43 L990.60 252.77 L992.19 252.08 L993.73 251.34 L995.23 250.56 L996.69 249.74 L998.10 248.88 L999.46 247.97 L1000.76 247.02 L1002.00 246.03 L1003.18 244.99 L1004.28 243.90 L1005.31 242.76 L1006.25 241.56 L1007.11 240.32 L1007.88 239.04 L1008.56 237.72 L1009.14 236.36 L1009.63 234.96 L1010.03 233.53 L1010.32 232.07 L1010.52 230.57 L1010.62 229.04 L1010.63 227.48 L1010.53 225.88 L1010.34 224.25 L1010.04 222.58 L1009.65 220.87 Z M953.11 247.11 L936.52 251.49 L937.08 253.31 L953.29 247.69 Z M941.08 264.10 L937.70 252.10 L935.90 252.70 L940.52 264.30 Z" fill="#0f2638"/>
<path d="M1068.61 497.20 L1067.91 496.38 L1067.21 495.55 L1066.52 494.73 L1065.84 493.92 L1065.16 493.10 L1064.48 492.30 L1063.81 491.49 L1063.14 490.70 L1062.46 489.92 L1061.78 489.14 L1061.10 488.38 L1060.41 487.63 L1059.71 486.90 L1059.00 486.18 L1058.29 485.47 L1057.56 484.79 L1056.82 484.13 L1056.06 483.49 L1055.30 482.86 L1054.53 482.25 L1053.76 481.65 L1052.98 481.06 L1052.20 480.48 L1051.41 479.92 L1050.62 479.37 L1049.81 478.83 L1049.01 478.30 L1048.19 477.79 L1047.37 477.29 L1046.54 476.80 L1045.70 476.33 L1044.86 475.87 L1044.01 475.42 L1043.15 474.99 L1042.28 474.57 L1041.40 474.16 L1040.51 473.77 L1039.62 473.40 L1038.71 473.03 L1037.80 472.69 L1036.88 472.35 L1035.94 472.03 L1035.00 471.73 L1034.04 471.44 L1033.08 471.17 L1032.10 470.91 L1031.12 470.66 L1030.12 470.43 L1029.11 470.22 L1028.09 470.02 L1027.05 469.85 L1026.01 469.69 L1024.95 469.55 L1023.88 469.43 L1022.80 469.32 L1021.70 469.23 L1020.59 469.15 L1019.47 469.09 L1018.34 469.05 L1018.26 470.75 L1019.37 470.81 L1020.47 470.89 L1021.55 470.99 L1022.61 471.10 L1023.67 471.23 L1024.70 471.37 L1025.73 471.53 L1026.74 471.70 L1027.74 471.89 L1028.73 472.08 L1029.71 472.29 L1030.68 472.51 L1031.63 472.75 L1032.58 473.00 L1033.51 473.26 L1034.43 473.54 L1035.34 473.84 L1036.25 474.15 L1037.14 474.47 L1038.02 474.80 L1038.90 475.15 L1039.76 475.52 L1040.62 475.90 L1041.47 476.29 L1042.31 476.69 L1043.14 477.11 L1043.96 477.54 L1044.78 477.99 L1045.59 478.45 L1046.39 478.92 L1047.19 479.40 L1047.98 479.90 L1048.77 480.41 L1049.54 480.94 L1050.32 481.47 L1051.08 482.02 L1051.85 482.58 L1052.60 483.16 L1053.35 483.74 L1054.10 484.34 L1054.85 484.95 L1055.59 485.57 L1056.34 486.19 L1057.09 486.82 L1057.84 487.45 L1058.61 488.08 L1059.37 488.72 L1060.13 489.37 L1060.90 490.03 L1061.67 490.71 L1062.43 491.39 L1063.20 492.08 L1063.96 492.79 L1064.71 493.52 L1065.46 494.26 L1066.21 495.02 L1066.94 495.79 L1067.67 496.59 L1068.39 497.40 Z M1030.18 464.23 L1017.91 469.03 L1018.69 470.77 L1030.42 464.77 Z M1024.74 478.22 L1019.07 469.34 L1017.53 470.46 L1024.26 478.58 Z" fill="#0f2638"/>
<path d="M575.98 572.32 L574.97 573.78 L573.92 575.13 L572.81 576.36 L571.66 577.49 L570.46 578.50 L569.23 579.42 L567.97 580.22 L566.68 580.93 L565.37 581.55 L564.03 582.08 L562.68 582.52 L561.31 582.87 L559.92 583.16 L558.51 583.37 L557.09 583.51 L555.66 583.59 L554.21 583.60 L552.74 583.56 L551.26 583.46 L549.77 583.28 L548.27 583.05 L546.76 582.74 L545.25 582.38 L543.73 581.95 L542.20 581.47 L540.68 580.93 L539.16 580.33 L537.65 579.68 L536.14 578.98 L534.64 578.23 L533.15 577.44 L531.67 576.59 L530.21 575.71 L528.77 574.78 L527.34 573.82 L525.94 572.81 L524.55 571.77 L523.20 570.70 L521.87 569.60 L520.57 568.46 L519.30 567.30 L518.07 566.12 L516.87 564.91 L515.70 563.68 L514.58 562.43 L513.50 561.16 L512.46 559.88 L511.47 558.58 L510.53 557.27 L509.63 555.96 L508.78 554.64 L507.98 553.32 L507.23 551.99 L506.55 550.67 L505.92 549.34 L505.35 548.02 L504.84 546.70 L504.40 545.39 L504.02 544.07 L502.38 544.53 L502.75 545.89 L503.19 547.28 L503.70 548.67 L504.28 550.07 L504.92 551.46 L505.61 552.85 L506.37 554.24 L507.18 555.63 L508.04 557.00 L508.97 558.36 L509.95 559.71 L510.97 561.05 L512.04 562.37 L513.15 563.68 L514.31 564.96 L515.50 566.23 L516.73 567.47 L518.00 568.69 L519.30 569.88 L520.64 571.04 L522.00 572.18 L523.39 573.28 L524.81 574.34 L526.26 575.37 L527.72 576.37 L529.21 577.32 L530.71 578.23 L532.23 579.10 L533.77 579.92 L535.31 580.69 L536.87 581.42 L538.44 582.09 L540.02 582.71 L541.60 583.27 L543.18 583.77 L544.77 584.22 L546.35 584.60 L547.94 584.92 L549.51 585.17 L551.09 585.35 L552.65 585.46 L554.21 585.50 L555.75 585.44 L557.28 585.30 L558.78 585.07 L560.26 584.74 L561.71 584.33 L563.13 583.83 L564.51 583.24 L565.86 582.56 L567.17 581.79 L568.44 580.94 L569.67 580.00 L570.86 578.97 L572.01 577.85 L573.12 576.65 L574.19 575.35 L575.23 573.96 L576.22 572.48 Z M518.43 551.63 L503.63 543.45 L502.77 545.15 L518.17 552.17 Z M497.57 555.94 L504.05 544.73 L502.35 543.87 L497.03 555.66 Z" fill="#0f2638"/>
</svg>
</body></html>
